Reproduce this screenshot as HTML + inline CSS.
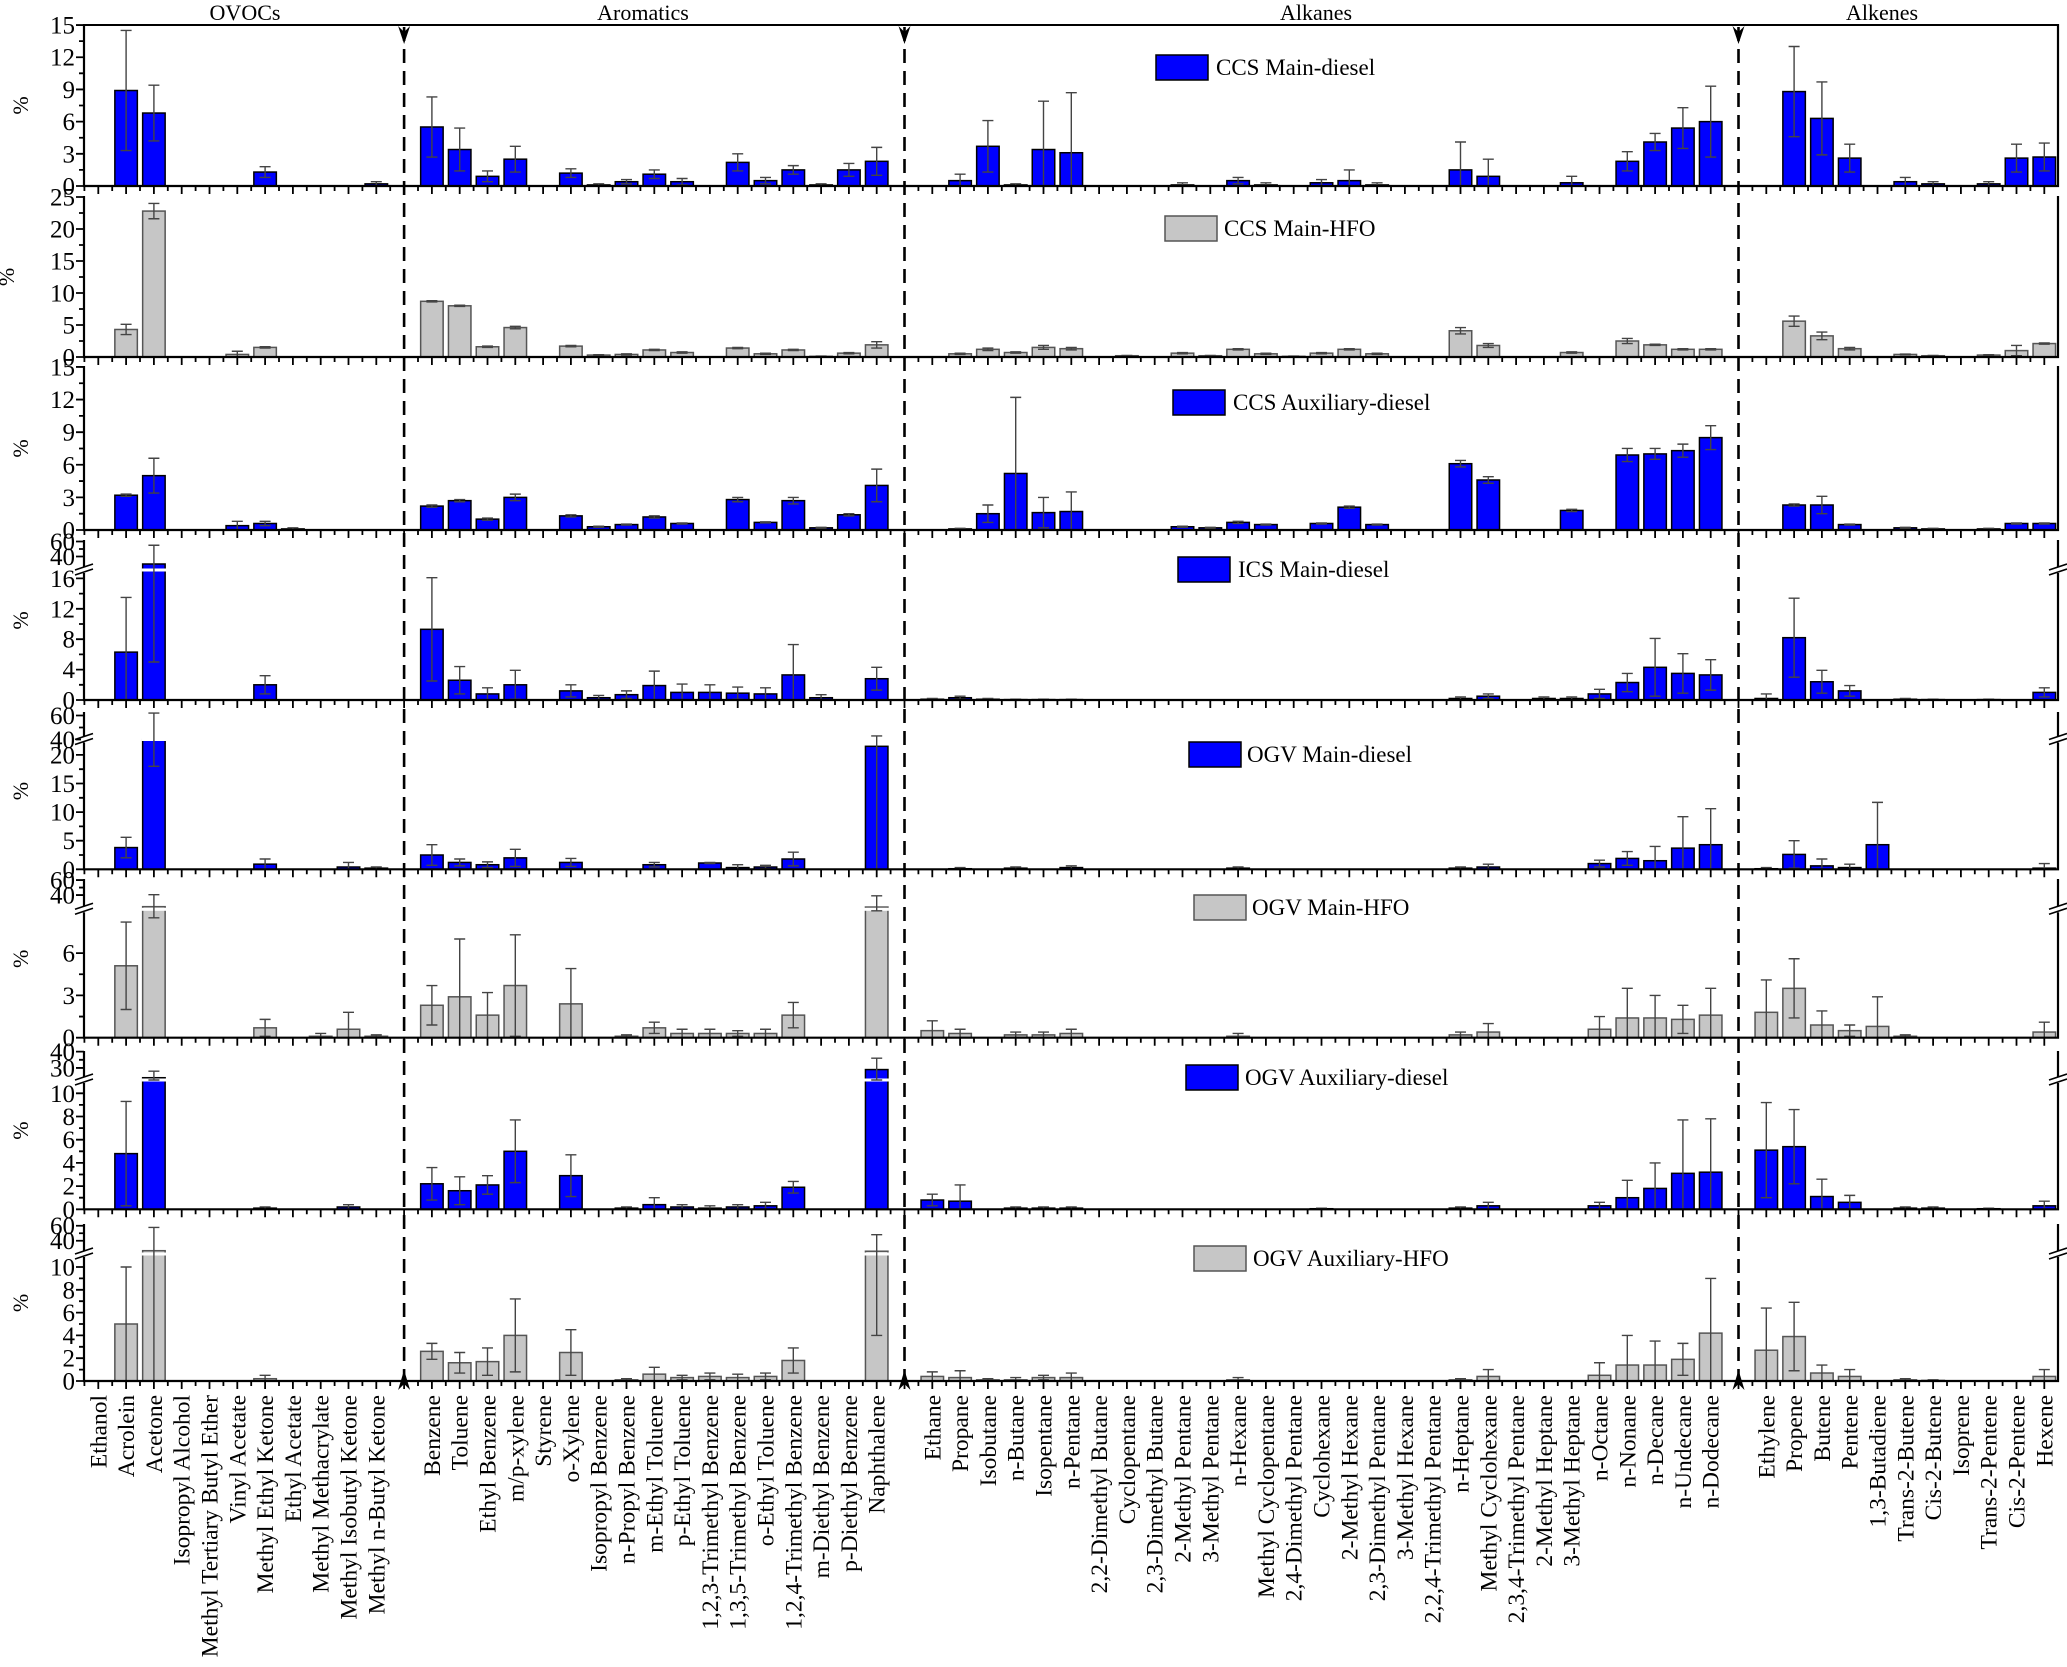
<!DOCTYPE html>
<html><head><meta charset="utf-8"><style>
html,body{margin:0;padding:0;background:#fff;}
svg{display:block;font-family:"Liberation Serif","Times New Roman",serif;}
</style></head><body>
<svg id="chart" width="2067" height="1667" viewBox="0 0 2067 1667" xmlns="http://www.w3.org/2000/svg"></svg>
<script>
const ovocs=["Ethanol","Acrolein","Acetone","Isopropyl Alcohol","Methyl Tertiary Butyl Ether","Vinyl Acetate","Methyl Ethyl Ketone","Ethyl Acetate","Methyl Methacrylate","Methyl Isobutyl Ketone","Methyl n-Butyl Ketone"];
const aromatics=["Benzene","Toluene","Ethyl Benzene","m/p-xylene","Styrene","o-Xylene","Isopropyl Benzene","n-Propyl Benzene","m-Ethyl Toluene","p-Ethyl Toluene","1,2,3-Trimethyl Benzene","1,3,5-Trimethyl Benzene","o-Ethyl Toluene","1,2,4-Trimethyl Benzene","m-Diethyl Benzene","p-Diethyl Benzene","Naphthalene"];
const alkanes=["Ethane","Propane","Isobutane","n-Butane","Isopentane","n-Pentane","2,2-Dimethyl Butane","Cyclopentane","2,3-Dimethyl Butane","2-Methyl Pentane","3-Methyl Pentane","n-Hexane","Methyl Cyclopentane","2,4-Dimethyl Pentane","Cyclohexane","2-Methyl Hexane","2,3-Dimethyl Pentane","3-Methyl Hexane","2,2,4-Trimethyl Pentane","n-Heptane","Methyl Cyclohexane","2,3,4-Trimethyl Pentane","2-Methyl Heptane","3-Methyl Heptane","n-Octane","n-Nonane","n-Decane","n-Undecane","n-Dodecane"];
const alkenes=["Ethylene","Propene","Butene","Pentene","1,3-Butadiene","Trans-2-Butene","Cis-2-Butene","Isoprene","Trans-2-Pentene","Cis-2-Pentene","Hexene"];
const groupNames=["OVOCs","Aromatics","Alkanes","Alkenes"];
const seriesNames=["CCS Main-diesel","CCS Main-HFO","CCS Auxiliary-diesel","ICS Main-diesel","OGV Main-diesel","OGV Main-HFO","OGV Auxiliary-diesel","OGV Auxiliary-HFO"];
const seriesFuel=["diesel","HFO","diesel","diesel","diesel","HFO","diesel","HFO"];

const ccsMainDiesel=[0,8.9,6.8,0,0,0,1.3,0,0,0,0.2, 5.5,3.4,0.9,2.5,0,1.2,0.1,0.4,1.1,0.4,0,2.2,0.5,1.5,0.1,1.5,2.3, 0,0.5,3.7,0.1,3.4,3.1,0,0,0,0.1,0,0.5,0.1,0,0.3,0.5,0.1,0,0,1.5,0.9,0,0,0.3,0,2.3,4.1,5.4,6.0, 0,8.8,6.3,2.6,0,0.4,0.2,0,0.2,2.6,2.7];
const ccsMainDieselErr=[0,5.6,2.6,0,0,0,0.5,0,0,0,0.2, 2.8,2.0,0.5,1.2,0,0.4,0.1,0.2,0.4,0.3,0,0.8,0.3,0.4,0.1,0.6,1.3, 0,0.6,2.4,0.1,4.5,5.6,0,0,0,0.2,0,0.3,0.2,0,0.3,1.0,0.2,0,0,2.6,1.6,0,0,0.6,0,0.9,0.8,1.9,3.3, 0,4.2,3.4,1.3,0,0.4,0.2,0,0.2,1.3,1.3];
const ccsMainHfo=[0,4.3,22.8,0,0,0.4,1.5,0,0,0,0, 8.7,8.0,1.6,4.6,0,1.7,0.3,0.4,1.1,0.7,0,1.4,0.5,1.1,0.1,0.6,1.9, 0,0.5,1.2,0.7,1.5,1.3,0,0.2,0,0.6,0.2,1.2,0.5,0.1,0.6,1.2,0.5,0,0,4.1,1.8,0,0,0.7,0,2.5,1.9,1.2,1.2, 0,5.6,3.3,1.3,0,0.4,0.2,0,0.3,1.0,2.1];
const ccsMainHfoErr=[0,0.8,1.2,0,0,0.5,0.1,0,0,0,0, 0.1,0.1,0.1,0.2,0,0.1,0.05,0.1,0.1,0.1,0,0.1,0.1,0.1,0.05,0.1,0.5, 0,0.1,0.2,0.1,0.3,0.2,0,0.05,0,0.1,0.05,0.1,0.1,0.05,0.1,0.1,0.1,0,0,0.5,0.3,0,0,0.1,0,0.4,0.1,0.1,0.1, 0,0.8,0.6,0.2,0,0.05,0.05,0,0.05,0.8,0.1];
const ccsAuxDiesel=[0,3.2,5.0,0,0,0.4,0.6,0.1,0,0,0, 2.2,2.7,1.0,3.0,0,1.3,0.3,0.5,1.2,0.6,0,2.8,0.7,2.7,0.2,1.4,4.1, 0,0.1,1.5,5.2,1.6,1.7,0,0,0,0.3,0.2,0.7,0.5,0,0.6,2.1,0.5,0,0,6.1,4.6,0,0,1.8,0,6.9,7.0,7.3,8.5, 0,2.3,2.3,0.5,0,0.2,0.1,0,0.1,0.6,0.6];
const ccsAuxDieselErr=[0,0.1,1.6,0,0,0.4,0.2,0.1,0,0,0, 0.1,0.1,0.1,0.3,0,0.1,0.05,0.05,0.1,0.05,0,0.2,0.05,0.3,0.05,0.1,1.5, 0,0.05,0.8,7.0,1.4,1.8,0,0,0,0.05,0.05,0.1,0.05,0,0.05,0.1,0.05,0,0,0.3,0.3,0,0,0.1,0,0.6,0.5,0.6,1.1, 0,0.1,0.8,0.05,0,0.05,0.05,0,0.05,0.05,0.05];
const icsMainDiesel=[0,6.3,30,0,0,0,2.0,0,0,0,0, 9.3,2.6,0.8,2.0,0,1.2,0.3,0.7,1.9,1.0,1.0,0.9,0.8,3.3,0.3,0,2.8, 0.1,0.3,0.1,0.05,0.05,0.05,0,0,0,0,0,0,0,0,0,0,0,0,0,0.2,0.5,0,0.2,0.2,0.8,2.3,4.3,3.5,3.3, 0.2,8.2,2.4,1.2,0,0.1,0.05,0,0.05,0,1.0];
const icsMainDieselErr=[0,7.2,25,0,0,0,1.2,0,0,0,0, 6.8,1.8,0.8,1.9,0,0.8,0.3,0.5,1.9,1.1,1.0,0.8,0.8,4.0,0.4,0,1.5, 0.1,0.2,0.1,0.05,0.05,0.05,0,0.2,0,0,0,0,0,0,0,0,0,0,0,0.2,0.3,0,0.2,0.2,0.6,1.2,3.8,2.6,2.0, 0.6,5.2,1.5,0.7,0,0.1,0.05,0,0.05,0,0.6];
const ogvMainDiesel=[0,3.8,40,0,0,0,0.9,0,0,0.4,0.2, 2.5,1.2,0.8,2.0,0,1.2,0,0,0.8,0,1.1,0.3,0.4,1.8,0,0,21.5, 0,0.1,0,0.2,0,0.3,0,0,0,0,0,0.2,0,0,0,0,0,0,0,0.2,0.4,0,0,0,1.0,1.9,1.5,3.7,4.3, 0.1,2.6,0.6,0.3,4.3,0,0,0,0,0,0.2];
const ogvMainDieselErr=[0,1.8,22,0,0,0,0.9,0,0,0.8,0.2, 1.8,0.6,0.5,1.5,0,0.7,0,0,0.4,0,0.1,0.5,0.3,1.2,0,0,21.5, 0,0.2,0,0.2,0,0.3,0,0,0,0,0,0.2,0,0,0,0,0,0,0,0.2,0.5,0,0,0,0.6,1.2,2.5,5.5,6.3, 0.2,2.4,1.2,0.6,7.4,0,0,0,0,0,0.8];
const ogvMainHfo=[0,5.1,24.5,0,0,0,0.7,0,0.1,0.6,0.1, 2.3,2.9,1.6,3.7,0,2.4,0,0.1,0.7,0.3,0.3,0.3,0.3,1.6,0,0,24, 0.5,0.3,0,0.2,0.2,0.3,0,0,0,0,0,0.1,0,0,0,0,0,0,0,0.2,0.4,0,0,0,0.6,1.4,1.4,1.3,1.6, 1.8,3.5,0.9,0.5,0.8,0.1,0,0,0,0,0.4];
const ogvMainHfoErr=[0,3.1,16,0,0,0,0.6,0,0.2,1.2,0.1, 1.4,4.1,1.6,3.6,0,2.5,0,0.1,0.4,0.3,0.3,0.2,0.3,0.9,0,0,15, 0.7,0.3,0,0.2,0.2,0.3,0,0,0,0,0,0.2,0,0,0,0,0,0,0,0.2,0.6,0,0,0,0.9,2.1,1.6,1.0,1.9, 2.3,2.1,1.0,0.4,2.1,0.1,0,0,0,0,0.7];
const ogvAuxDiesel=[0,4.8,24,0,0,0,0.1,0,0,0.2,0, 2.2,1.6,2.1,5.0,0,2.9,0,0.1,0.4,0.2,0.1,0.2,0.3,1.9,0,0,29, 0.8,0.7,0,0.1,0.1,0.1,0,0,0,0,0,0,0,0,0.05,0,0,0,0,0.1,0.3,0,0,0,0.3,1.0,1.8,3.1,3.2, 5.1,5.4,1.1,0.6,0,0.1,0.1,0,0.05,0,0.3];
const ogvAuxDieselErr=[0,4.5,4,0,0,0,0.1,0,0,0.2,0, 1.4,1.2,0.8,2.7,0,1.8,0,0.1,0.6,0.2,0.2,0.2,0.3,0.5,0,0,7, 0.5,1.4,0,0.1,0.1,0.1,0,0,0,0,0,0,0,0,0.05,0,0,0,0,0.1,0.3,0,0,0,0.3,1.5,2.2,4.6,4.6, 4.1,3.2,1.5,0.6,0,0.1,0.1,0,0.05,0,0.4];
const ogvAuxHfo=[0,5.0,26.7,0,0,0,0.2,0,0,0,0, 2.6,1.6,1.7,4.0,0,2.5,0,0.1,0.6,0.3,0.4,0.3,0.4,1.8,0,0,26, 0.4,0.3,0.1,0.1,0.3,0.3,0,0,0,0,0,0.1,0,0,0,0,0,0,0,0.1,0.4,0,0,0,0.5,1.4,1.4,1.9,4.2, 2.7,3.9,0.7,0.4,0,0.1,0.05,0,0,0,0.4];
const ogvAuxHfoErr=[0,5.0,31,0,0,0,0.3,0,0,0,0, 0.7,0.9,1.2,3.2,0,2.0,0,0.1,0.6,0.2,0.3,0.3,0.3,1.1,0,0,22, 0.4,0.6,0.1,0.2,0.2,0.4,0,0,0,0,0,0.2,0,0,0,0,0,0,0,0.1,0.6,0,0,0,1.1,2.6,2.1,1.4,4.8, 3.7,3.0,0.7,0.6,0,0.1,0.05,0,0,0,0.6];
const ticksP1=[0,3,6,9,12,15], ticksP2=[0,5,10,15,20,25], ticksP3=[0,3,6,9,12,15];
const ticksP4=[0,4,8,12,16,40,60], ticksP5=[0,5,10,15,20,40,60], ticksP6=[0,3,6,40,60];
const ticksP7=[0,2,4,6,8,10,30,40], ticksP8=[0,2,4,6,8,10,40,60];

const values=[ccsMainDiesel,ccsMainHfo,ccsAuxDiesel,icsMainDiesel,ogvMainDiesel,ogvMainHfo,ogvAuxDiesel,ogvAuxHfo];
const errs=[ccsMainDieselErr,ccsMainHfoErr,ccsAuxDieselErr,icsMainDieselErr,ogvMainDieselErr,ogvMainHfoErr,ogvAuxDieselErr,ogvAuxHfoErr];
const ticks=[ticksP1,ticksP2,ticksP3,ticksP4,ticksP5,ticksP6,ticksP7,ticksP8];

const L=84,R=2058,X0=98.3,SW=27.8,BW=22.5;
const panels=[
 {y0:186,s1:10.73,top:25},
 {y0:357,s1:6.4,top:197},
 {y0:530,s1:10.87,top:367},
 {y0:700,s1:7.6,b1:17.1,yb:570,b2:22,s2:0.75,top:541},
 {y0:869.3,s1:5.72,b1:22.7,yb:739.5,b2:40,s2:1.2,top:713},
 {y0:1037.7,s1:14.1,b1:9.1,yb:909.3,b2:21,s2:0.75,top:880},
 {y0:1209.3,s1:11.6,b1:11.14,yb:1080,b2:22.6,s2:1.63,top:1052},
 {y0:1381,s1:11.4,b1:11.1,yb:1254,b2:22.3,s2:0.75,top:1225}];
const legendPos=[[1156,55,1216],[1165,216,1224],[1173,390,1233],[1178,557,1238],[1189,742,1247],[1194,895,1252],[1186,1065,1245],[1194,1246,1253]];
const groupStart=[0,12,30,60];
const groups=[ovocs,aromatics,alkanes,alkenes];
const dividers=[11,29,59];

const NS="http://www.w3.org/2000/svg";
const svg=document.getElementById('chart');
function mk(tag,attrs,parent){const e=document.createElementNS(NS,tag);for(const k in attrs)e.setAttribute(k,attrs[k]);(parent||svg).appendChild(e);return e;}
function xPos(slot){return X0+slot*SW;}
function yMap(p,v){
  if(p.b1===undefined||v<=p.b1) return p.y0-v*p.s1;
  if(v<p.b2) return p.yb;
  return p.yb-(v-p.b2)*p.s2;
}
const cats=[];
groups.forEach((g,gi)=>g.forEach((n,i)=>cats.push({name:n,slot:groupStart[gi]+i})));

const titleX=[245,643,1316,1882];
groupNames.forEach((g,i)=>{
  const t=mk('text',{x:titleX[i],y:20,'font-size':22,'text-anchor':'middle',fill:'#000'});
  
  
  t.textContent=g;
});
const tl=mk('line',{x1:L,y1:25,x2:R,y2:25,stroke:'#000','stroke-width':2});



panels.forEach((p,pi)=>{
  const g=mk('g',{});
  
  
  const diesel=seriesFuel[pi]==='diesel';
  const fill=diesel?'#0000ff':'#c6c6c6', stroke=diesel?'#000':'#555';
  cats.forEach((c,ci)=>{
    const v=values[pi][ci]; if(!v) return;
    const x=xPos(c.slot), yt=yMap(p,v);
    const r=mk('rect',{x:x-BW/2,y:yt,width:BW,height:p.y0-yt,fill:fill,stroke:stroke,'stroke-width':1.5},g);
    
    
    if(p.b1!==undefined && v>p.b1){
      const w=mk('rect',{x:x-BW/2-1,y:p.yb-1.5,width:BW+2,height:3,fill:'#fff'},g);
      
      
    }
    const e=errs[pi][ci];
    if(e){
      const ya=yMap(p,v+e), yb2=yMap(p,Math.max(0,v-e));
      const el=mk('path',{d:`M${x},${ya}V${yb2}M${x-5.5},${ya}H${x+5.5}M${x-5.5},${yb2}H${x+5.5}`,stroke:'#444','stroke-width':1.4,fill:'none'},g);
      
      
    }
  });
  const ax=mk('path',{d:`M${L},${p.top-1}V${p.y0}H${R}V${p.top-1}`,stroke:'#000','stroke-width':2.2,fill:'none'},g);
  
  
  let d='';
  for(let s=-0.5;s<=70.5;s+=0.5){
    const x=xPos(s); if(x<L||x>R) continue;
    const len=(Math.abs(s-Math.round(s))<0.01)?8:5;
    d+=`M${x},${p.y0}v${len}`;
  }
  const xt=mk('path',{d:d,stroke:'#000','stroke-width':1.8},g);
  
  
  const tk=ticks[pi]; let yd='';
  tk.forEach((t,ti)=>{
    const y=yMap(p,t); yd+=`M${L},${y}h-8`;
    const lab=mk('text',{x:L-9,y:y+8.5,'font-size':25,'text-anchor':'end',fill:'#000'},g);
    
    
    lab.textContent=t;
    if(ti<tk.length-1){
      const nt=tk[ti+1];
      if(p.b1===undefined||nt<=p.b1||t>=p.b2){ const m=yMap(p,(t+nt)/2); yd+=`M${L},${m}h-5`; }
    }
  });
  const yt=mk('path',{d:yd,stroke:'#000','stroke-width':1.8},g);
  
  
  if(p.b1!==undefined){
    [L,R].forEach(ax0=>{
      const gap=mk('rect',{x:ax0-3,y:p.yb-3,width:6,height:6,fill:'#fff'},g);
      
      
      const bm=mk('path',{d:`M${ax0-9},${p.yb}l18,-6M${ax0-9},${p.yb+5}l18,-6`,stroke:'#000','stroke-width':1.6},g);
      
      
    });
  }
  const yc=(p.top+p.y0)/2;
  const ytl=mk('text',{x:0,y:0,'font-size':22,'text-anchor':'middle',transform:`translate(${pi===1?14:28},${yc}) rotate(-90)`},g);
  
  
  ytl.textContent='%';
  const lp=legendPos[pi];
  const lg=mk('g',{},g);
  
  
  mk('rect',{x:lp[0],y:lp[1],width:52,height:25,fill:fill,stroke:stroke,'stroke-width':1.5},lg);
  const lt=mk('text',{x:lp[2],y:lp[1]+20,'font-size':23,fill:'#000'},lg);
  lt.textContent=seriesNames[pi];
});

dividers.forEach(s=>{
  const x=xPos(s);
  const dv=mk('path',{d:`M${x},27V1379`,stroke:'#000','stroke-width':2.6,'stroke-dasharray':'14,8',fill:'none'});
  
  
  const a1=mk('path',{d:`M${x-6},26L${x},44L${x+6},26L${x},32Z`,fill:'#000'});
  
  
  const a2=mk('path',{d:`M${x-6},1390L${x},1370L${x+6},1390L${x},1384Z`,fill:'#000'});
  
  
});

cats.forEach(c=>{
  const x=xPos(c.slot);
  const t=mk('text',{x:0,y:0,'font-size':23.5,'text-anchor':'end',transform:`translate(${x+8},1395) rotate(-90)`,fill:'#000'});
  
  
  t.textContent=c.name;
});
</script>
</body></html>
